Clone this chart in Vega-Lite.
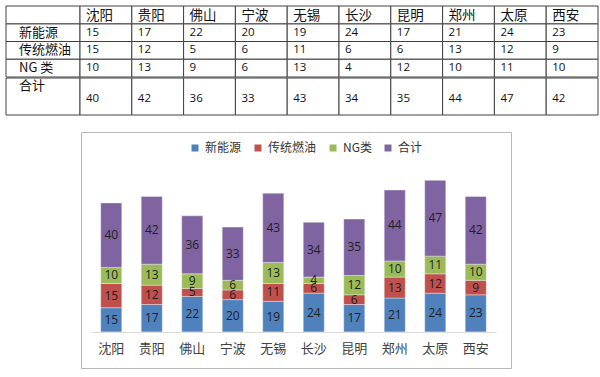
{
  "$schema": "https://vega.github.io/schema/vega-lite/v6.json",
  "background": "white",
  "padding": {"left": 5, "top": 5, "right": 2, "bottom": 2},
  "spacing": 15,
  "datasets": {
    "d": [
      {"city": "沈阳", "type": "新能源", "value": 15},
      {"city": "贵阳", "type": "新能源", "value": 17},
      {"city": "佛山", "type": "新能源", "value": 22},
      {"city": "宁波", "type": "新能源", "value": 20},
      {"city": "无锡", "type": "新能源", "value": 19},
      {"city": "长沙", "type": "新能源", "value": 24},
      {"city": "昆明", "type": "新能源", "value": 17},
      {"city": "郑州", "type": "新能源", "value": 21},
      {"city": "太原", "type": "新能源", "value": 24},
      {"city": "西安", "type": "新能源", "value": 23},
      {"city": "沈阳", "type": "传统燃油", "value": 15},
      {"city": "贵阳", "type": "传统燃油", "value": 12},
      {"city": "佛山", "type": "传统燃油", "value": 5},
      {"city": "宁波", "type": "传统燃油", "value": 6},
      {"city": "无锡", "type": "传统燃油", "value": 11},
      {"city": "长沙", "type": "传统燃油", "value": 6},
      {"city": "昆明", "type": "传统燃油", "value": 6},
      {"city": "郑州", "type": "传统燃油", "value": 13},
      {"city": "太原", "type": "传统燃油", "value": 12},
      {"city": "西安", "type": "传统燃油", "value": 9},
      {"city": "沈阳", "type": "NG类", "value": 10},
      {"city": "贵阳", "type": "NG类", "value": 13},
      {"city": "佛山", "type": "NG类", "value": 9},
      {"city": "宁波", "type": "NG类", "value": 6},
      {"city": "无锡", "type": "NG类", "value": 13},
      {"city": "长沙", "type": "NG类", "value": 4},
      {"city": "昆明", "type": "NG类", "value": 12},
      {"city": "郑州", "type": "NG类", "value": 10},
      {"city": "太原", "type": "NG类", "value": 11},
      {"city": "西安", "type": "NG类", "value": 10},
      {"city": "沈阳", "type": "合计", "value": 40},
      {"city": "贵阳", "type": "合计", "value": 42},
      {"city": "佛山", "type": "合计", "value": 36},
      {"city": "宁波", "type": "合计", "value": 33},
      {"city": "无锡", "type": "合计", "value": 43},
      {"city": "长沙", "type": "合计", "value": 34},
      {"city": "昆明", "type": "合计", "value": 35},
      {"city": "郑州", "type": "合计", "value": 44},
      {"city": "太原", "type": "合计", "value": 47},
      {"city": "西安", "type": "合计", "value": 42}
    ]
  },
  "vconcat": [
    {
      "spacing": -1,
      "vconcat": [
        {
          "spacing": 0,
          "bounds": "flush",
          "hconcat": [
            {
              "width": 74,
              "height": 71,
              "data": {"name": "d"},
              "transform": [{"filter": "datum.city === '沈阳'"}],
              "layer": [
                {
                  "transform": [{"filter": "datum.type !== '合计'"}],
                  "mark": {"type": "rect", "fill": "white", "stroke": "#404040", "strokeWidth": 1},
                  "encoding": {
                    "y": {"field": "type", "type": "nominal", "scale": {"domain": ["H", "新能源", "传统燃油", "NG类"], "paddingInner": 0, "paddingOuter": 0}, "axis": null}
                  }
                },
                {
                  "transform": [{"filter": "datum.type === '新能源'"}],
                  "mark": {"type": "rect", "fill": "white", "stroke": "#404040", "strokeWidth": 1},
                  "encoding": {
                    "y": {"datum": "H", "type": "nominal"}
                  }
                },
                {
                  "transform": [
                    {"filter": "datum.type !== '合计'"},
                    {"calculate": "datum.type === 'NG类' ? ' NG 类' : datum.type", "as": "label"}
                  ],
                  "mark": {"type": "text", "align": "left", "baseline": "middle", "x": 13, "font": "Noto Sans CJK SC", "fontSize": 13, "color": "#111111"},
                  "encoding": {
                    "y": {"field": "type", "type": "nominal"},
                    "text": {"field": "label", "type": "nominal"}
                  }
                }
              ]
            },
            {
              "width": 518,
              "height": 71,
              "data": {"name": "d"},
              "layer": [
                {
                  "transform": [{"filter": "datum.type !== '合计'"}],
                  "mark": {"type": "rect", "fill": "white", "stroke": "#404040", "strokeWidth": 1},
                  "encoding": {
                    "x": {"field": "city", "type": "nominal", "scale": {"domain": ["沈阳", "贵阳", "佛山", "宁波", "无锡", "长沙", "昆明", "郑州", "太原", "西安"], "paddingInner": 0, "paddingOuter": 0}, "axis": null},
                    "y": {"field": "type", "type": "nominal", "scale": {"domain": ["H", "新能源", "传统燃油", "NG类"], "paddingInner": 0, "paddingOuter": 0}, "axis": null}
                  }
                },
                {
                  "transform": [{"filter": "datum.type !== '合计'"}],
                  "mark": {"type": "text", "align": "left", "baseline": "middle", "dx": 6, "font": "Open Sans", "fontSize": 11.5, "color": "#111111"},
                  "encoding": {
                    "x": {"field": "city", "type": "nominal", "bandPosition": 0},
                    "y": {"field": "type", "type": "nominal"},
                    "text": {"field": "value", "type": "quantitative"}
                  }
                },
                {
                  "transform": [{"filter": "datum.type === '新能源'"}],
                  "mark": {"type": "rect", "fill": "white", "stroke": "#404040", "strokeWidth": 1},
                  "encoding": {
                    "x": {"field": "city", "type": "nominal"},
                    "y": {"datum": "H", "type": "nominal"}
                  }
                },
                {
                  "transform": [{"filter": "datum.type === '新能源'"}],
                  "mark": {"type": "text", "align": "left", "baseline": "middle", "dx": 6, "dy": 1, "font": "Noto Sans CJK SC", "fontSize": 13.5, "color": "#111111"},
                  "encoding": {
                    "x": {"field": "city", "type": "nominal", "bandPosition": 0},
                    "y": {"datum": "H", "type": "nominal"},
                    "text": {"field": "city", "type": "nominal"}
                  }
                }
              ]
            }
          ]
        },
        {
          "spacing": 0,
          "bounds": "flush",
          "hconcat": [
            {
              "width": 74,
              "height": 37,
              "data": {"name": "d"},
              "transform": [{"filter": "datum.type === '合计' && datum.city === '沈阳'"}],
              "layer": [
                {
                  "mark": {"type": "rect", "fill": "white", "stroke": "#404040", "strokeWidth": 1},
                  "encoding": {}
                },
                {
                  "mark": {"type": "text", "align": "left", "baseline": "middle", "x": 13, "dy": -11, "font": "Noto Sans CJK SC", "fontSize": 13, "color": "#111111", "text": "合计"},
                  "encoding": {}
                }
              ]
            },
            {
              "width": 518,
              "height": 37,
              "data": {"name": "d"},
              "transform": [{"filter": "datum.type === '合计'"}],
              "layer": [
                {
                  "mark": {"type": "rect", "fill": "white", "stroke": "#404040", "strokeWidth": 1},
                  "encoding": {
                    "x": {"field": "city", "type": "nominal", "scale": {"domain": ["沈阳", "贵阳", "佛山", "宁波", "无锡", "长沙", "昆明", "郑州", "太原", "西安"], "paddingInner": 0, "paddingOuter": 0}, "axis": null}
                  }
                },
                {
                  "mark": {"type": "text", "align": "left", "baseline": "middle", "dx": 6, "dy": 2, "font": "Open Sans", "fontSize": 11.5, "color": "#111111"},
                  "encoding": {
                    "x": {"field": "city", "type": "nominal", "bandPosition": 0},
                    "text": {"field": "value", "type": "quantitative"}
                  }
                }
              ]
            }
          ]
        }
      ]
    },
    {
      "spacing": 0,
      "bounds": "flush",
      "hconcat": [
        {
          "width": 75,
          "height": 236,
          "data": {"values": []},
          "mark": {"type": "point", "opacity": 0},
          "encoding": {}
        },
        {
          "width": 430,
          "height": 236,
          "view": {"stroke": "#b8b8b8", "strokeWidth": 1},
          "data": {"name": "d"},
          "transform": [
            {"calculate": "indexof(['新能源','传统燃油','NG类','合计'], datum.type)", "as": "o"},
            {"stack": "value", "groupby": ["city"], "sort": [{"field": "o", "order": "ascending"}], "as": ["y0", "y1"]},
            {"calculate": "(datum.y0 + datum.y1) / 2", "as": "mid"}
          ],
          "encoding": {
            "x": {
              "field": "city",
              "type": "nominal",
              "sort": ["沈阳", "贵阳", "佛山", "宁波", "无锡", "长沙", "昆明", "郑州", "太原", "西安"],
              "scale": {"range": [10, 415], "paddingInner": 0.48, "paddingOuter": 0.24},
              "axis": {
                "orient": "bottom",
                "offset": -36,
                "title": null,
                "domainColor": "#d9d9d9",
                "domainWidth": 1,
                "ticks": false,
                "grid": false,
                "labelAngle": 0,
                "labelPadding": 10,
                "labelFont": "Noto Sans CJK SC",
                "labelFontSize": 13,
                "labelColor": "#404040"
              }
            }
          },
          "layer": [
            {
              "mark": {"type": "bar", "stroke": "white", "strokeWidth": 0.6, "strokeOpacity": 0.6},
              "encoding": {
                "y": {
                  "field": "y1",
                  "type": "quantitative",
                  "scale": {"domain": [-22.4, 124], "nice": false, "zero": false},
                  "axis": null
                },
                "y2": {"field": "y0"},
                "color": {
                  "field": "type",
                  "type": "nominal",
                  "scale": {"domain": ["新能源", "传统燃油", "NG类", "合计"], "range": ["#4F81BD", "#C0504D", "#9BBB59", "#8064A2"]},
                  "legend": {
                    "orient": "none",
                    "legendX": 183,
                    "legendY": 136,
                    "direction": "horizontal",
                    "title": null,
                    "symbolType": "square",
                    "symbolSize": 49,
                    "symbolStrokeWidth": 0,
                    "labelFont": "Noto Sans CJK SC",
                    "labelFontSize": 12,
                    "labelColor": "#333333",
                    "labelOffset": 4,
                    "columnPadding": 10
                  }
                }
              }
            },
            {
              "mark": {"type": "text", "baseline": "middle", "align": "center", "font": "Open Sans", "fontSize": 12, "color": "#1f1f1f"},
              "encoding": {
                "y": {"field": "mid", "type": "quantitative"},
                "text": {"field": "value", "type": "quantitative"}
              }
            }
          ]
        }
      ]
    }
  ],
  "config": {
    "view": {"stroke": null}
  }
}
